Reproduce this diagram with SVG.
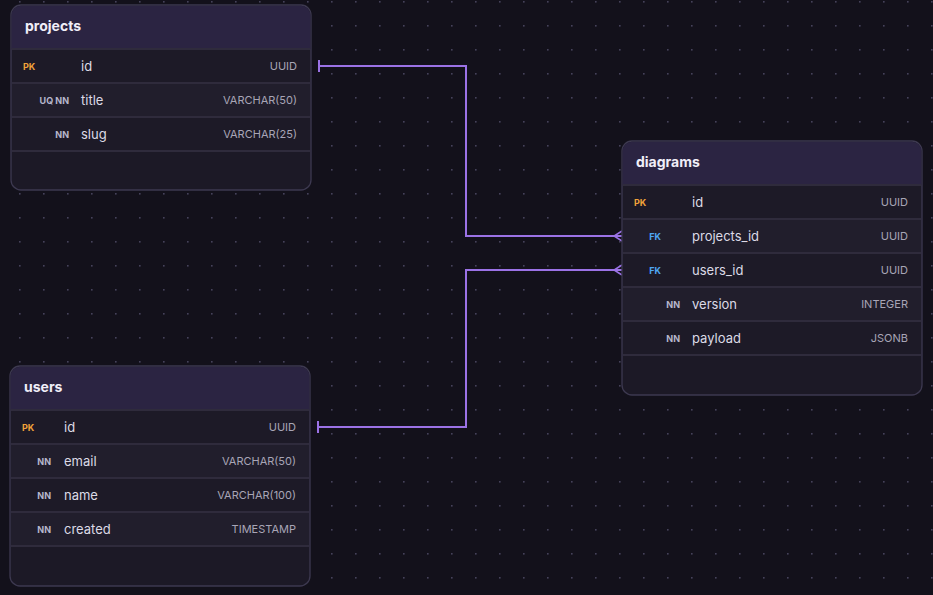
<svg xmlns="http://www.w3.org/2000/svg" width="933" height="595" viewBox="0 0 933 595">
<defs>
<pattern id="dots" x="19" y="1" width="24" height="24" patternUnits="userSpaceOnUse"><rect x="0" y="0" width="1.6" height="1.6" fill="#45425a"/></pattern>
<marker id="one" viewBox="0 0 4 12" refX="1" refY="6" markerWidth="4" markerHeight="12" markerUnits="userSpaceOnUse" orient="auto"><path d="M1,0 V12" stroke="#9b72e6" stroke-width="2"/></marker>
<marker id="many" viewBox="0 0 10 12" refX="9" refY="6" markerWidth="10" markerHeight="12" markerUnits="userSpaceOnUse" orient="auto"><path d="M9,1 L1,6 L9,11 M1,6 H9" stroke="#9b72e6" stroke-width="1.6" fill="none"/></marker>
</defs>
<style>
.tbl{fill:#1c1926;stroke:#3d3950;stroke-width:1.3}
.hd{fill:#2b2442}
.row{fill:#1d1a27}
.alt{fill:#211e2c}
.sep{stroke:#2f2b3c;stroke-width:2}
.t{font-family:Inter,"Noto Sans",sans-serif}
.title{font-size:14px;font-weight:700;fill:#f0eef8}
.nm{font-size:13px;fill:#dcdae6}
.ty{font-size:11px;fill:#a8a5b6;text-anchor:end}
.bd{font-size:9px;font-weight:700;fill:#b7b6cc;text-anchor:end}
.pk{fill:#f0a23a;text-anchor:start}
.fk{fill:#4fa6f2}
.ln{stroke:#9b72e6;stroke-width:2;fill:none}
</style>
<rect width="933" height="595" fill="#13111b"/>
<rect width="933" height="595" fill="url(#dots)"/>
<g id="connectors">
<path class="ln" d="M319,66 H466 V236 H622" marker-start="url(#one)" marker-end="url(#many)"/>
<path class="ln" d="M318,427 H466 V270 H622" marker-start="url(#one)" marker-end="url(#many)"/>
</g>
<g id="projects">
<rect class="tbl" x="11" y="5" width="300" height="185" rx="10"/>
<path class="hd" d="M21,5.7 H301 A9.3,9.3 0 0 1 310.3,15 V49 H11.7 V15 A9.3,9.3 0 0 1 21,5.7Z"/>
<rect class="row" x="12" y="49" width="298" height="34"/>
<rect class="alt" x="12" y="83" width="298" height="34"/>
<rect class="row" x="12" y="117" width="298" height="34"/>
<path class="sep" d="M12,49H310M12,83H310M12,117H310M12,151H310"/>
<text class="t title" x="25" y="31">projects</text>
<text class="t bd pk" x="23" y="70">PK</text><text class="t nm" x="81" y="71">id</text><text class="t ty" x="297" y="70">UUID</text>
<text class="t bd" x="69" y="104">UQ NN</text><text class="t nm" x="81" y="105">title</text><text class="t ty" x="297" y="104">VARCHAR(50)</text>
<text class="t bd" x="69" y="138">NN</text><text class="t nm" x="81" y="139">slug</text><text class="t ty" x="297" y="138">VARCHAR(25)</text>
</g>
<g id="users">
<rect class="tbl" x="10" y="366" width="300" height="220" rx="10"/>
<path class="hd" d="M20,366.7 H300 A9.3,9.3 0 0 1 309.3,376 V410 H10.7 V376 A9.3,9.3 0 0 1 20,366.7Z"/>
<rect class="row" x="11" y="410" width="298" height="34"/>
<rect class="alt" x="11" y="444" width="298" height="34"/>
<rect class="row" x="11" y="478" width="298" height="34"/>
<rect class="alt" x="11" y="512" width="298" height="34"/>
<path class="sep" d="M11,410H309M11,444H309M11,478H309M11,512H309M11,546H309"/>
<text class="t title" x="24" y="392">users</text>
<text class="t bd pk" x="22" y="431">PK</text><text class="t nm" x="64" y="432">id</text><text class="t ty" x="296" y="431">UUID</text>
<text class="t bd" x="51" y="465">NN</text><text class="t nm" x="64" y="466">email</text><text class="t ty" x="296" y="465">VARCHAR(50)</text>
<text class="t bd" x="51" y="499">NN</text><text class="t nm" x="64" y="500">name</text><text class="t ty" x="296" y="499">VARCHAR(100)</text>
<text class="t bd" x="51" y="533">NN</text><text class="t nm" x="64" y="534">created</text><text class="t ty" x="296" y="533">TIMESTAMP</text>
</g>
<g id="diagrams">
<rect class="tbl" x="622" y="141" width="300" height="254" rx="10"/>
<path class="hd" d="M632,141.7 H912 A9.3,9.3 0 0 1 921.3,151 V185 H622.7 V151 A9.3,9.3 0 0 1 632,141.7Z"/>
<rect class="row" x="623" y="185" width="298" height="34"/>
<rect class="alt" x="623" y="219" width="298" height="34"/>
<rect class="row" x="623" y="253" width="298" height="34"/>
<rect class="alt" x="623" y="287" width="298" height="34"/>
<rect class="row" x="623" y="321" width="298" height="34"/>
<path class="sep" d="M623,185H921M623,219H921M623,253H921M623,287H921M623,321H921M623,355H921"/>
<text class="t title" x="636" y="167">diagrams</text>
<text class="t bd pk" x="634" y="206">PK</text><text class="t nm" x="692" y="207">id</text><text class="t ty" x="908" y="206">UUID</text>
<text class="t bd fk" x="661" y="240">FK</text><text class="t nm" x="692" y="241">projects_id</text><text class="t ty" x="908" y="240">UUID</text>
<text class="t bd fk" x="661" y="274">FK</text><text class="t nm" x="692" y="275">users_id</text><text class="t ty" x="908" y="274">UUID</text>
<text class="t bd" x="680" y="308">NN</text><text class="t nm" x="692" y="309">version</text><text class="t ty" x="908" y="308">INTEGER</text>
<text class="t bd" x="680" y="342">NN</text><text class="t nm" x="692" y="343">payload</text><text class="t ty" x="908" y="342">JSONB</text>
</g>
</svg>
